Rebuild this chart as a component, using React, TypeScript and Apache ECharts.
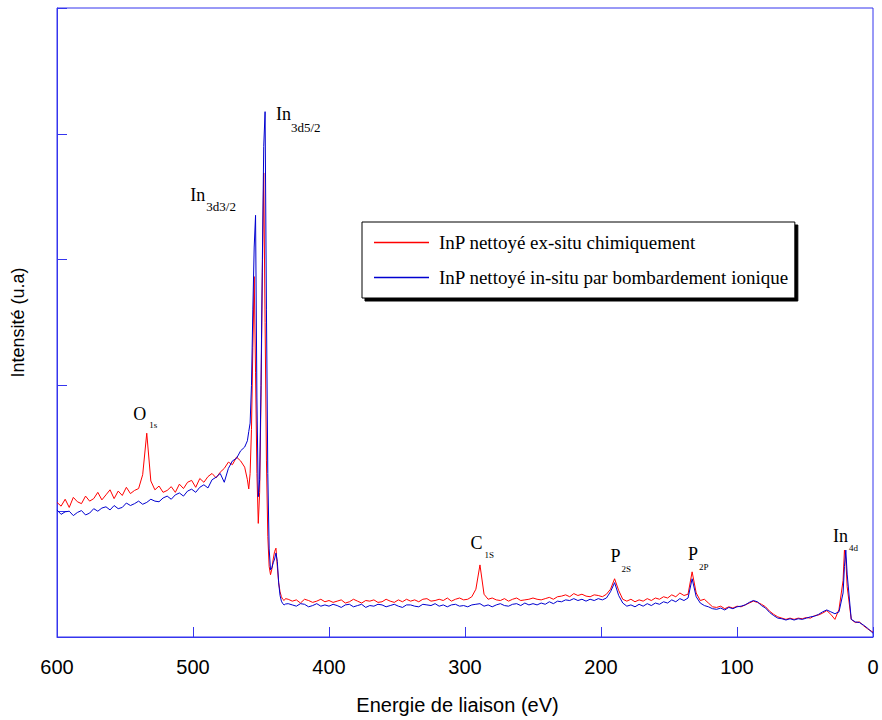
import React, { useEffect, useRef } from "react";
import * as echarts from "echarts";

// Binding energy grid (eV)
const energiesA = [
  600, 597, 594, 591, 588, 585, 582, 579, 576, 573,
  570, 567, 564, 561, 558, 555, 552, 549, 546, 543,
  540, 537, 534, 531, 528, 525, 522, 519, 516, 513,
  510, 507, 504, 501, 498, 495, 492, 489, 486, 483,
  480, 477, 474, 471, 468, 465, 462,
];
const energiesB = [
  460, 459, 458, 457, 456, 455, 454, 453, 452, 451,
  450, 449, 448, 447, 446, 445, 444, 443, 442, 441,
  440, 439, 438, 437, 436, 435, 434, 433, 432,
];
const energiesC = [
  430, 427, 424, 421, 418, 415, 412, 409, 406, 403,
  400, 397, 394, 391, 388, 385, 382, 379, 376, 373,
  370, 367, 364, 361, 358, 355, 352, 349, 346, 343,
  340, 337, 334, 331, 328, 325, 322, 319, 316, 313,
  310, 307, 304, 301, 298, 295, 292, 289, 286, 283,
  280, 277, 274, 271, 268, 265, 262, 259, 256, 253,
  250, 247, 244, 241, 238, 235, 232, 229, 226, 223,
  220, 217, 214, 211, 208, 205, 202, 199, 196, 193,
  190, 187, 184, 181, 178, 175, 172, 169, 166, 163,
  160, 157, 154, 151, 148, 145, 142, 139, 136, 133,
  130, 127, 124, 121, 118, 115, 112, 109, 106, 103,
  100, 97, 94, 91, 88, 85, 82, 79, 76, 73,
  70, 67, 64, 61, 58, 55, 52, 49, 46, 43,
  40, 37, 34, 31, 28, 25, 22,
  21, 20, 19, 16, 13, 10, 7, 4, 1, 0,
];

// InP nettoyé ex-situ chimiquement (red)
const exSituA = [
  1070, 1040, 1095, 1030, 1110, 1075, 1060, 1120, 1080, 1100,
  1150, 1090, 1130, 1170, 1100, 1160, 1125, 1190, 1140, 1165,
  1180, 1290, 1620, 1240, 1170, 1200, 1150, 1165, 1195, 1150,
  1215, 1180, 1230, 1245, 1190, 1260, 1230, 1275, 1300, 1265,
  1310, 1340, 1390, 1370, 1430, 1400, 1350,
];
const exSituB = [
  1250, 1177, 1300, 1650, 2300, 2865, 2100, 1300, 903, 1150,
  1900, 2900, 3689, 2500, 1400, 800, 560, 495, 540, 620,
  680, 706, 560, 430, 360, 320, 300, 290, 305,
];
const exSituC = [
  300, 285, 295, 270, 300, 290, 275, 285, 300, 280,
  290, 275, 285, 295, 270, 280, 300, 285, 270, 290,
  285, 295, 275, 280, 300, 285, 275, 295, 280, 300,
  285, 295, 280, 300, 305, 285, 290, 300, 290, 310,
  285, 300, 310, 295, 300, 320, 380, 573, 340, 300,
  310, 295, 290, 305, 285, 300, 310, 290, 295, 300,
  310, 300, 295, 305, 315, 300, 320, 325, 335, 320,
  345, 330, 340, 325, 320, 335, 330, 320, 340, 380,
  463, 370, 300, 285, 300, 280, 295, 285, 305, 290,
  310, 300, 320, 310, 335, 320, 350, 330, 340, 518,
  350, 290, 300, 270, 240, 235, 245, 225, 240, 230,
  245, 240, 255, 270, 285, 275, 260, 240, 205, 180,
  160, 150, 140, 150, 140, 150, 145, 155, 150, 170,
  175, 190, 210, 180, 140, 220, 450,
  691, 620, 400, 140, 115, 120, 90, 65, 45, 39,
];

// InP nettoyé in-situ par bombardement ionique (blue)
const inSituA = [
  1010, 975, 995, 1000, 965, 990, 1005, 970, 985, 1020,
  1000, 1025, 1035, 1010, 1045, 1020, 1030, 1065, 1045, 1060,
  1080, 1055, 1070, 1095, 1080, 1075, 1105, 1120, 1095, 1130,
  1145, 1120, 1160, 1175, 1150, 1190, 1210, 1185, 1250, 1270,
  1300, 1230, 1340, 1400, 1420, 1480, 1510,
];
const inSituB = [
  1560, 1633, 1700, 2000, 2600, 3100, 3352, 1900, 1115, 1250,
  2000, 3000, 3900, 4176, 2600, 1300, 700, 534, 550, 590,
  620, 667, 600, 430, 330, 285, 265, 255, 262,
];
const inSituC = [
  265, 255, 245, 265, 260, 240, 250, 265, 245, 255,
  245, 260, 250, 235, 255, 260, 240, 250, 260, 235,
  250, 245, 260, 255, 240, 250, 260, 245, 235, 255,
  255, 245, 240, 260, 255, 250, 265, 245, 255, 240,
  255, 260, 245, 250, 240, 255, 260, 265, 245, 255,
  240, 255, 265, 250, 245, 260, 265, 250, 270, 255,
  265, 255, 270, 260, 280, 265, 285, 280, 295, 290,
  305, 290, 300, 285, 300, 290, 305, 295, 310, 360,
  432, 330, 270, 245, 255, 240, 260, 245, 265, 250,
  270, 260, 280, 270, 295, 280, 305, 290, 310, 463,
  320, 270, 250, 240, 225, 220, 230, 215, 235, 225,
  240, 245, 255, 275, 290, 280, 250, 230, 195, 170,
  150, 145, 135, 145, 135, 145, 140, 150, 160, 165,
  180, 200, 215, 200, 185, 200, 350,
  560, 691, 500, 140, 120, 115, 95, 70, 40, 30,
];

const seriesNames = [
  "InP nettoyé ex-situ chimiquement",
  "InP nettoyé in-situ par bombardement ionique",
];
const xTicks = { min: 0, max: 600, interval: 100 };
const yTicks = { min: 0, max: 5000, interval: 1000 };

// Peak annotations (anchor = left/baseline of main symbol, in data coords)
const annotMain = ["In", "In", "O", "C", "P", "P", "In"];
const annotSub = ["3d5/2", "3d3/2", "1s", "1S", "2S", "2P", "4d"];
const annotEnergy = [439, 502, 544, 296, 193, 136, 29.4];
const annotIntensity = [4105, 3462, 1727, 699, 597, 612, 754];

// layout/style of subscripts (px offsets, font size)
const subLayout = [
  { dx: 15, dy: 11, size: 13 },
  { dx: 16, dy: 9, size: 13 },
  { dx: 16, dy: 8, size: 9 },
  { dx: 14, dy: 9, size: 9 },
  { dx: 11, dy: 10, size: 9 },
  { dx: 11, dy: 10, size: 9 },
  { dx: 16, dy: 9, size: 9 },
];

const AXIS_BLUE = "#3535ee";
const RED = "#ff0000";
const BLUE = "#0000d0";
const SERIF = "'Liberation Serif', 'Times New Roman', serif";
const SANS = "'Liberation Sans', Arial, sans-serif";

export default function App() {
  const ref = useRef<HTMLDivElement>(null);

  useEffect(() => {
    if (!ref.current) return;
    const chart = echarts.init(ref.current, undefined, { renderer: "svg" });
    const energies = [...energiesA, ...energiesB, ...energiesC];
    const exSitu = [...exSituA, ...exSituB, ...exSituC];
    const inSitu = [...inSituA, ...inSituB, ...inSituC];

    chart.setOption({
      animation: false,
      grid: {
        left: 57,
        right: 9,
        top: 8,
        bottom: 75,
        show: true,
        borderColor: AXIS_BLUE,
        borderWidth: 1,
        backgroundColor: "transparent",
      },
      xAxis: {
        type: "value",
        min: xTicks.min,
        max: xTicks.max,
        interval: xTicks.interval,
        inverse: true,
        name: "Energie de liaison (eV)",
        nameLocation: "middle",
        nameGap: 58,
        nameTextStyle: {
          fontFamily: SANS,
          fontSize: 20,
          color: "#000",
          padding: [0, 15, 0, 0],
        },
        axisLine: { show: true, onZero: false, lineStyle: { color: AXIS_BLUE, width: 1 } },
        axisTick: { show: true, inside: true, length: 10, lineStyle: { color: AXIS_BLUE } },
        axisLabel: { margin: 20, fontFamily: SANS, fontSize: 20, color: "#000" },
        splitLine: { show: false },
      },
      yAxis: {
        type: "value",
        position: "left",
        min: yTicks.min,
        max: yTicks.max,
        interval: yTicks.interval,
        name: "Intensité (u.a)",
        nameLocation: "middle",
        nameGap: 30,
        nameTextStyle: { fontFamily: SANS, fontSize: 18, color: "#000" },
        axisLine: { show: true, onZero: false, lineStyle: { color: AXIS_BLUE, width: 1 } },
        axisTick: { show: true, inside: true, length: 10, lineStyle: { color: AXIS_BLUE } },
        axisLabel: { show: false },
        splitLine: { show: false },
      },
      legend: {
        orient: "vertical",
        left: 362,
        top: 222,
        padding: [11, 6, 11, 12],
        itemGap: 16,
        itemWidth: 55,
        itemHeight: 1.5,
        icon: "rect",
        backgroundColor: "#fff",
        borderColor: "#000",
        borderWidth: 1,
        shadowColor: "#000",
        shadowBlur: 0,
        shadowOffsetX: 3,
        shadowOffsetY: 3,
        textStyle: { fontFamily: SERIF, fontSize: 19, color: "#000", padding: [0, 0, 0, 5] },
        data: seriesNames,
      },
      series: [
        {
          type: "line",
          name: seriesNames[0],
          data: energies.map((e, i) => [e, exSitu[i]]),
          symbol: "none",
          showSymbol: false,
          lineStyle: { color: RED, width: 1 },
          itemStyle: { color: RED },
          z: 2,
        },
        {
          type: "line",
          name: seriesNames[1],
          data: energies.map((e, i) => [e, inSitu[i]]),
          symbol: "none",
          showSymbol: false,
          lineStyle: { color: BLUE, width: 1 },
          itemStyle: { color: BLUE },
          z: 3,
        },
      ],
    });

    const graphics: any[] = [];
    annotMain.forEach((m, i) => {
      const p = chart.convertToPixel({ gridIndex: 0 }, [annotEnergy[i], annotIntensity[i]]) as number[];
      const lay = subLayout[i];
      graphics.push({
        type: "text",
        x: p[0],
        y: p[1] - 0.34 * 18,
        z: 10,
        style: { text: m, fontFamily: SERIF, fontSize: 18, fill: "#000", align: "left", verticalAlign: "middle" },
      });
      graphics.push({
        type: "text",
        x: p[0] + lay.dx,
        y: p[1] + lay.dy - 0.34 * lay.size,
        z: 10,
        style: { text: annotSub[i], fontFamily: SERIF, fontSize: lay.size, fill: "#000", align: "left", verticalAlign: "middle" },
      });
    });
    chart.setOption({ graphic: graphics });

    return () => chart.dispose();
  }, []);

  return (
    <div
      ref={ref}
      style={{ position: "absolute", left: 0, top: 0, width: 882, height: 720, background: "#fff" }}
    />
  );
}
